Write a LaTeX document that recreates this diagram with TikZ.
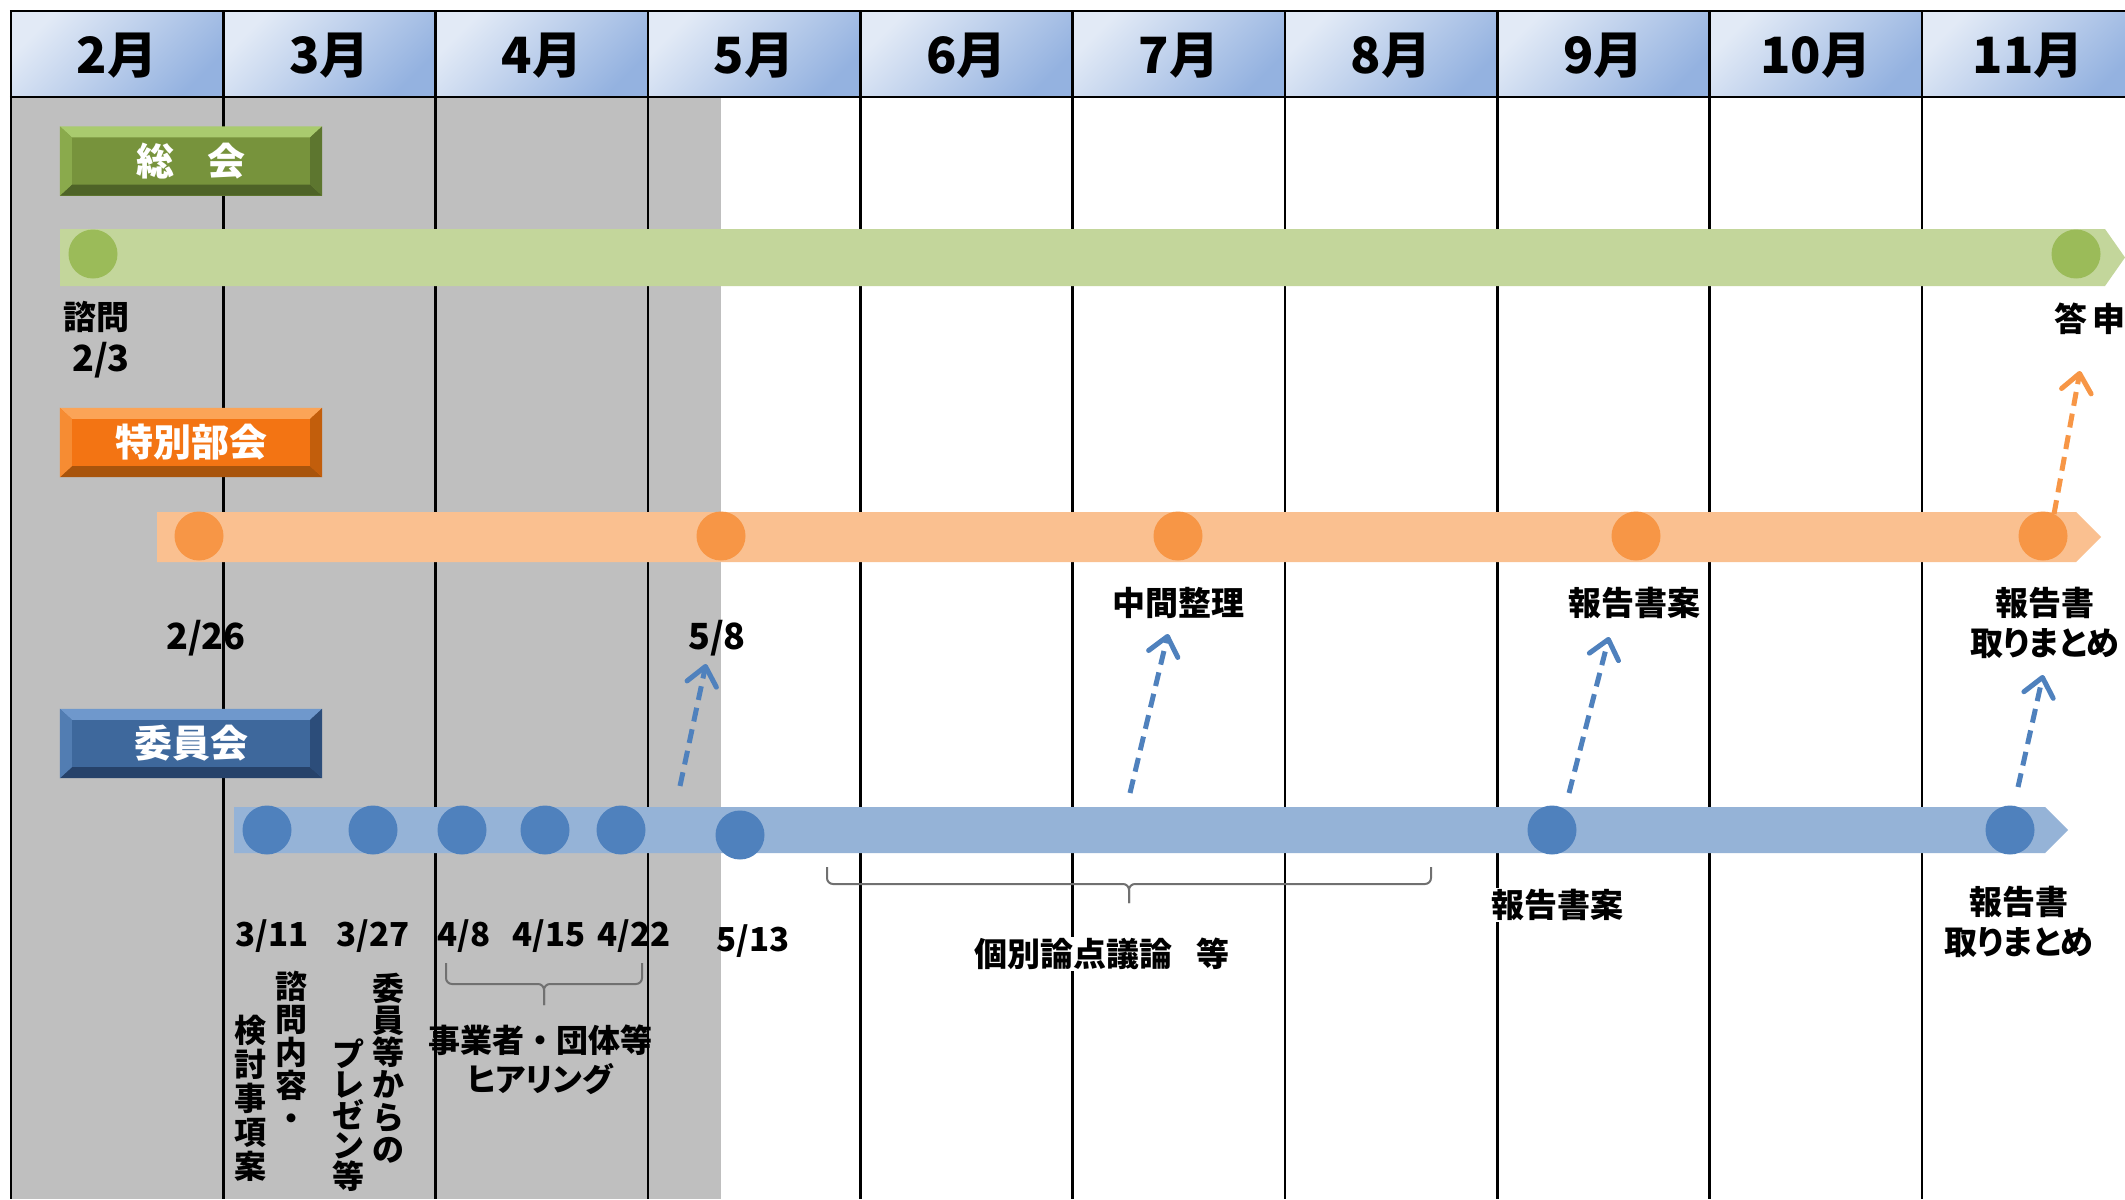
\documentclass[tikz,border=0pt]{standalone}
\usepackage{fontspec}
\newfontfamily\jp{Noto Sans CJK JP}
\newfontfamily\jpp{Noto Sans CJK JP}[RawFeature=+palt]
\usetikzlibrary{arrows.meta}
\definecolor{hdrA}{HTML}{E2EAF6}
\definecolor{hdrB}{HTML}{94B2E0}
\definecolor{zone}{HTML}{BFBFBF}
\definecolor{gbar}{HTML}{C3D69B}
\definecolor{gdot}{HTML}{9BBB59}
\definecolor{obar}{HTML}{FAC090}
\definecolor{odot}{HTML}{F79646}
\definecolor{bbar}{HTML}{95B3D7}
\definecolor{bdot}{HTML}{4F81BD}
\definecolor{brc}{HTML}{707070}
\definecolor{gmain}{HTML}{77933C}
\definecolor{gtop}{HTML}{A9CB6E}
\definecolor{gbot}{HTML}{4E6327}
\definecolor{glft}{HTML}{8AAA4C}
\definecolor{grgt}{HTML}{5D762F}
\definecolor{omain}{HTML}{F37413}
\definecolor{otop}{HTML}{FBA457}
\definecolor{obot}{HTML}{A8540C}
\definecolor{olft}{HTML}{F68C33}
\definecolor{orgt}{HTML}{C25E0C}
\definecolor{bmain}{HTML}{3E689C}
\definecolor{btop}{HTML}{6F98CC}
\definecolor{bbot}{HTML}{26426A}
\definecolor{blft}{HTML}{527DB2}
\definecolor{brgt}{HTML}{2C4D7A}
\tikzset{
  hdr/.style={top color=hdrA, bottom color=hdrB, shading angle=45,
    minimum width=212.33pt, minimum height=86pt, inner sep=0pt, anchor=north west},
  hdrtext/.style={font={\jp\bfseries\fontsize{50}{60}\selectfont}, inner sep=0pt},
  gridline/.style={line width=2.5pt, black},
  dot/.style={circle, minimum size=49pt, inner sep=0pt, draw=none},
  btn/.style={minimum width=262pt, minimum height=69pt, inner sep=0pt, draw=none},
  btntext/.style={text=white, font={\jp\bfseries\fontsize{38}{44}\selectfont}, inner sep=0pt},
  lbl/.style={font={\jp\bfseries\fontsize{33}{40}\selectfont}, inner sep=1pt, align=center},
  datelbl/.style={font={\jp\bfseries\fontsize{33}{40}\selectfont}, inner sep=0pt},
  bigdate/.style={font={\jp\bfseries\fontsize{36}{40}\selectfont}, inner sep=0pt},
  vtext/.style={inner sep=0pt, align=center},
  barrow/.style={draw=bdot, line width=5pt, dash pattern=on 14pt off 8pt,
    -{Straight Barb[round, length=18pt, width=30pt]}},
  oarrow/.style={draw=odot, line width=5pt, dash pattern=on 14pt off 8pt,
    -{Straight Barb[round, length=18pt, width=30pt]}},
  bracket/.style={draw=brc, line width=2pt, rounded corners=6pt}
}
\newcommand\bevelbox[4]{%
  \node[btn, fill=#3main] (#1) at #2 {};
  \fill[#3top] (#1.north west) -- (#1.north east) -- ([shift={(-12pt,-11pt)}]#1.north east) -- ([shift={(12pt,-11pt)}]#1.north west) -- cycle;
  \fill[#3bot] (#1.south west) -- (#1.south east) -- ([shift={(-12pt,11pt)}]#1.south east) -- ([shift={(12pt,11pt)}]#1.south west) -- cycle;
  \fill[#3lft] (#1.north west) -- ([shift={(12pt,-11pt)}]#1.north west) -- ([shift={(12pt,11pt)}]#1.south west) -- (#1.south west) -- cycle;
  \fill[#3rgt] (#1.north east) -- ([shift={(-12pt,-11pt)}]#1.north east) -- ([shift={(-12pt,11pt)}]#1.south east) -- (#1.south east) -- cycle;
  \node[btntext] (#1t) at (#1.center) {#4};
}
\begin{document}
\begin{tikzpicture}[x=1pt,y=-1pt]
\useasboundingbox (0,0) rectangle (2125,1199);
\fill[white] (0,0) rectangle (2125,1199);
\fill[zone] (11,97) rectangle (721,1199);
% header cells
\foreach \i/\m in {0/2,1/3,2/4,3/5,4/6,5/7,6/8,7/9,8/10,9/11}{
  \node[hdr] (c\m) at ({11+212.33*\i},11) {};
  \node[hdrtext] (m\m) at ({11+212.33*\i+106.2},56) {\m 月};
}
% grid
\foreach \i in {0,...,10}{
  \draw[gridline] ({11+212.33*\i},11) -- ({11+212.33*\i},1199);
}
\draw[gridline] (9.75,11) -- (2125,11);
\draw[gridline] (9.75,97) -- (2125,97);
% bars
\fill[gbar] (60,229) -- (2105,229) -- (2125,257.5) -- (2105,286) -- (60,286) -- cycle;
\fill[obar] (157,512) -- (2076,512) -- (2101,537) -- (2076,562) -- (157,562) -- cycle;
\fill[bbar] (234,807) -- (2045,807) -- (2068,830) -- (2045,853) -- (234,853) -- cycle;
% dots
\node[dot, fill=gdot] (g1) at (93,254) {};
\node[dot, fill=gdot] (g2) at (2076,254) {};
\foreach \n/\x in {1/199,2/721,3/1178,4/1636,5/2043}{
  \node[dot, fill=odot] (o\n) at (\x,536) {};
}
\foreach \n/\x in {1/267,2/373,3/462,4/545,5/621,7/1552,8/2010}{
  \node[dot, fill=bdot] (b\n) at (\x,830) {};
}
\node[dot, fill=bdot] (b6) at (740,835) {};
% buttons
\bevelbox{sokai}{(191,161)}{g}{総\hspace{0.85em}会}
\bevelbox{tokubetsu}{(191,442.5)}{o}{特別部会}
\bevelbox{iinkai}{(191,743.5)}{b}{委員会}
% labels general assembly
\node[lbl, anchor=west] (shimon) at (62,317) {諮問};
\node[bigdate, anchor=west] (d23) at (72,360) {2/3};
\node[lbl] (toshin) at (2090,319) {答\hspace{0.15em}申};
% special committee labels
\node[bigdate] (d226) at (206,638) {2/26};
\node[bigdate] (d58) at (717,638) {5/8};
\node[lbl] (chukan) at (1178,603) {中間整理};
\node[lbl] (hokokuan1) at (1634,603) {報告書案};
\node[lbl, font={\jpp\bfseries\fontsize{33}{40}\selectfont}] (matome1) at (2045,623) {報告書\\取りまとめ};
% committee dates
\node[datelbl] (d311) at (272,936) {3/11};
\node[datelbl] (d327) at (373,936) {3/27};
\node[datelbl] (d48) at (464,936) {4/8};
\node[datelbl] (d415) at (549,936) {4/15};
\node[datelbl] (d422) at (634,936) {4/22};
\node[datelbl] (d513) at (753,941) {5/13};
% vertical texts
\node[vtext, font={\jp\bfseries\fontsize{32}{33}\selectfont}] (vA) at (291,1051) {諮\\問\\内\\容\\・};
\node[vtext, font={\jp\bfseries\fontsize{32}{34}\selectfont}] (vB) at (250,1098) {検\\討\\事\\項\\案};
\node[vtext, font={\jp\bfseries\fontsize{32}{32.2}\selectfont}] (vC) at (388,1068) {委\\員\\等\\か\\ら\\の};
\node[vtext, font={\jp\bfseries\fontsize{32}{30.5}\selectfont}] (vD) at (348,1115) {プ\\レ\\ゼ\\ン\\等};
% brackets
\draw[bracket] (446,963) -- (446,984) -- (544,984) -- (544,1005);
\draw[bracket] (642,963) -- (642,984) -- (544,984) -- (544,1005);
\draw[bracket] (827,867) -- (827,884) -- (1129,884) -- (1129,903);
\draw[bracket] (1431,867) -- (1431,884) -- (1129,884) -- (1129,903);
\node[lbl, font={\jp\bfseries\fontsize{32}{39}\selectfont}] (hearing) at (540,1060) {事業者・団体等\\{\jpp ヒアリング}};
\node[lbl, fill=white] (kobetsu) at (1102,954) {個別論点議論\hspace{0.75em}等};
\node[lbl, fill=white] (hokokuan2) at (1557,905) {報告書案};
\node[lbl, font={\jpp\bfseries\fontsize{33}{40}\selectfont}] (matome2) at (2019,922) {報告書\\取りまとめ};
% arrows
\coordinate (a1s) at (680,786); \coordinate (a1e) at (706,664);
\coordinate (a2s) at (1130,793); \coordinate (a2e) at (1168,634);
\coordinate (a3s) at (1569,793); \coordinate (a3e) at (1609,637);
\coordinate (a4s) at (2018,787); \coordinate (a4e) at (2043,675);
\coordinate (a5s) at (2054,514); \coordinate (a5e) at (2080,371);
\draw[barrow] (a1s) -- (a1e);
\draw[barrow] (a2s) -- (a2e);
\draw[barrow] (a3s) -- (a3e);
\draw[barrow] (a4s) -- (a4e);
\draw[oarrow] (a5s) -- (a5e);
\end{tikzpicture}
\end{document}
